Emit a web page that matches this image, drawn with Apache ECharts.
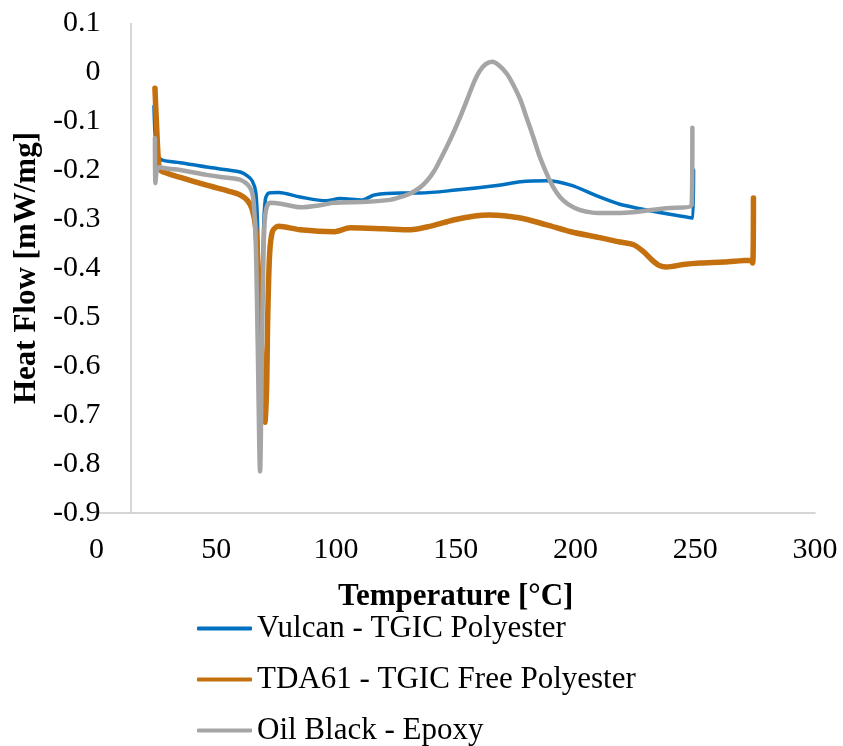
<!DOCTYPE html>
<html>
<head>
<meta charset="utf-8">
<script src="https://cdn.jsdelivr.net/npm/echarts@6/dist/echarts.min.js"></script>
<style>
html,body{margin:0;padding:0;background:#fff;}
#chart{width:843px;height:746px;}
</style>
</head>
<body>
<div id="chart"></div>
<script>
// Series names
var seriesNames = ['Vulcan - TGIC Polyester', 'TDA61 - TGIC Free Polyester', 'Oil Black - Epoxy'];

// Temperature [°C], Heat Flow [mW/mg]
var vulcan = [
  [24.0,-0.07],[24.5,-0.13],[25.5,-0.17],[27.5,-0.18],[35,-0.185],[46,-0.194],[55,-0.2],[60,-0.204],
  [63,-0.212],[65,-0.222],[66.5,-0.245],[67.3,-0.32],[67.9,-0.5],[68.4,-0.62],[69,-0.5],[69.7,-0.33],
  [70.5,-0.26],[72,-0.247],[76,-0.246],[85,-0.255],[96,-0.263],[101.6,-0.258],[111,-0.261],[116,-0.251],
  [127,-0.247],[135,-0.247],[150,-0.241],[168,-0.231],[177,-0.224],[188,-0.222],[198,-0.231],
  [210,-0.255],[218.5,-0.27],[227,-0.279],[240,-0.291],[249,-0.298],[249.3,-0.2]
];
var tda61 = [
  [24.4,-0.033],[25,-0.1],[26,-0.19],[27,-0.202],[35,-0.215],[46,-0.231],[55,-0.243],[60,-0.251],
  [63,-0.262],[65,-0.28],[66.5,-0.32],[68,-0.45],[69.3,-0.62],[70.3,-0.715],[71,-0.65],[71.5,-0.5],
  [72.3,-0.37],[73.5,-0.325],[76,-0.315],[85,-0.322],[99,-0.326],[106,-0.318],[120,-0.32],[131,-0.322],
  [140,-0.314],[149,-0.302],[158,-0.294],[164,-0.292],[177,-0.298],[188,-0.312],[198,-0.326],
  [210,-0.338],[218.5,-0.347],[224,-0.352],[228,-0.365],[232,-0.384],[235,-0.395],[238,-0.398],
  [245,-0.393],[252,-0.39],[262,-0.388],[273,-0.384],[274,-0.39],[274.3,-0.257]
];
var oilBlack = [
  [24.4,-0.135],[24.6,-0.227],[25.2,-0.2],[26.5,-0.194],[28,-0.196],[35,-0.2],[46,-0.21],[55,-0.216],
  [60,-0.22],[64,-0.235],[65.5,-0.26],[66.5,-0.35],[67.3,-0.55],[68.3,-0.815],[69,-0.6],[69.7,-0.38],
  [70.5,-0.29],[72.4,-0.267],[78,-0.27],[85,-0.276],[94.6,-0.271],[99,-0.267],[113,-0.265],
  [122.5,-0.261],[127,-0.255],[131,-0.248],[135,-0.236],[138,-0.222],[141,-0.202],[143.4,-0.18],
  [146,-0.155],[149,-0.124],[152,-0.09],[154.7,-0.057],[157.5,-0.022],[160,0.002],[162.5,0.016],
  [165.2,0.021],[168,0.014],[171.4,-0.004],[174,-0.026],[177,-0.057],[179.7,-0.095],[182.4,-0.133],
  [185,-0.172],[188,-0.208],[190.7,-0.235],[193.5,-0.255],[197,-0.27],[202,-0.282],[207,-0.287],
  [213,-0.288],[224,-0.286],[238,-0.278],[248.5,-0.271],[248.8,-0.114]
];

// Axis settings
var xMin = 0, xMax = 300, xStep = 50;
var yMin = -0.9, yMax = 0.1, yStep = 0.1;
var yAxisCross = 14.4; // where the vertical axis line crosses the x axis

var colors = ['#0070C0', '#C5700E', '#A5A5A5'];
var widths = [3.5, 5.5, 4.5];
var font = 'Liberation Serif';

var chart = echarts.init(document.getElementById('chart'), null, {renderer: 'canvas'});

var datasets = [vulcan, tda61, oilBlack];
var series = datasets.map(function (d, i) {
  var s = {
    name: seriesNames[i],
    type: 'line',
    data: d,
    showSymbol: false,
    symbol: 'none',
    smooth: 0.3,
    lineStyle: {color: colors[i], width: widths[i], cap: 'round', join: 'round'},
    itemStyle: {color: colors[i]},
    z: 2 + i,
    animation: false
  };
  if (i === 0) {
    s.markLine = {
      silent: true,
      symbol: 'none',
      label: {show: false},
      lineStyle: {color: '#c8c8c8', width: 1.5, type: 'solid'},
      data: [{xAxis: yAxisCross}],
      animation: false
    };
  }
  return s;
});

chart.setOption({
  animation: false,
  backgroundColor: '#fff',
  color: colors,
  grid: {left: 96.5, right: 28, top: 23, bottom: 233, containLabel: false},
  xAxis: {
    type: 'value', min: xMin, max: xMax, interval: xStep,
    name: 'Temperature [°C]', nameLocation: 'middle', nameGap: 68,
    nameTextStyle: {fontFamily: font, fontSize: 31, fontWeight: 'bold', color: '#000'},
    axisLine: {show: true, onZero: false, lineStyle: {color: '#c8c8c8', width: 1.5}},
    axisTick: {show: false},
    splitLine: {show: false},
    axisLabel: {fontFamily: font, fontSize: 30, color: '#000', margin: 22}
  },
  yAxis: {
    type: 'value', min: yMin, max: yMax, interval: yStep,
    name: 'Heat Flow [mW/mg]', nameLocation: 'middle', nameGap: 52, nameRotate: 90,
    nameTextStyle: {fontFamily: font, fontSize: 31, fontWeight: 'bold', color: '#000'},
    axisLine: {show: false},
    axisTick: {show: false},
    splitLine: {show: false},
    axisLabel: {fontFamily: font, fontSize: 30, color: '#000', margin: -4,
      formatter: function (v) { return String(Math.round(v * 10) / 10); }}
  },
  legend: {
    orient: 'vertical', left: 197, top: 613, height: 140, padding: 0,
    icon: 'roundRect',
    itemWidth: 55, itemHeight: 4, itemGap: 20,
    textStyle: {fontFamily: font, fontSize: 31, color: '#000'},
    data: seriesNames
  },
  series: series
});
</script>
</body>
</html>
